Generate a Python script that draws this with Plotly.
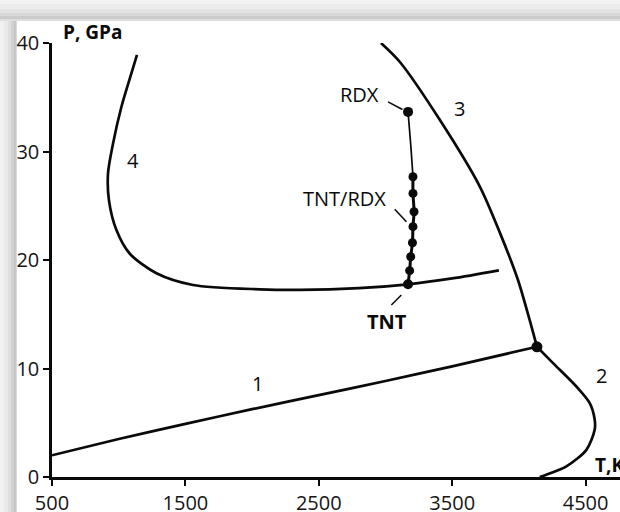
import plotly.graph_objects as go

# ---- data (T in K, P in GPa) ----
curve1_T = [500, 1000, 1500, 2000, 2500, 3000, 3500, 4135]
curve1_P = [2.0, 3.5, 4.9, 6.25, 7.55, 8.85, 10.2, 12.0]

curve2_T = [4135, 4256, 4431, 4531, 4568, 4568, 4506, 4356, 4206, 4156]
curve2_P = [12.0, 10.5, 8.34, 6.81, 5.3, 4.35, 2.5, 0.98, 0.21, 0.0]

curve3_T = [2966, 3108, 3408, 3708, 3858, 3993, 4081, 4135]
curve3_P = [40.0, 38.25, 32.9, 26.75, 22.5, 18.16, 14.45, 12.0]

curve4_T = [1137, 1095, 1020, 957, 920, 927, 983, 1082, 1283, 1557, 2057, 2357, 2800, 3169, 3500, 3850]
curve4_P = [38.9, 37.2, 34.1, 30.7, 28.0, 25.5, 22.76, 20.6, 18.78, 17.7, 17.3, 17.24, 17.4, 17.76, 18.3, 19.05]

rdx_T = [3169]
rdx_P = [33.65]
rdx_link_T = [3169, 3190, 3206]
rdx_link_P = [33.65, 30.5, 27.67]

mix_T = [3206, 3206, 3214, 3206, 3202, 3189, 3181]
mix_P = [27.67, 26.14, 24.45, 23.07, 21.59, 20.30, 19.02]

tnt_T = [3169]
tnt_P = [17.76]

triple_T = [4135]
triple_P = [12.0]

# leader lines (start, end)
lead_rdx_T = [3019, 3127]
lead_rdx_P = [34.57, 33.87]
lead_mix_T = [3069, 3157]
lead_mix_P = [24.67, 23.53]
lead_tnt_T = [3044, 3119]
lead_tnt_P = [15.86, 16.78]

x_ticks = [500, 1500, 2500, 3500, 4500]
y_ticks = [0, 10, 20, 30, 40]

FONT = "Open Sans"
BLACK = "#0a0a0a"

fig = go.Figure()

def line(T, P, w=2.7, shape="spline"):
    fig.add_trace(go.Scatter(x=T, y=P, mode="lines",
                             line=dict(color=BLACK, width=w, shape=shape, smoothing=0.8),
                             hoverinfo="skip", showlegend=False, cliponaxis=False))

line(curve1_T, curve1_P)
line(curve2_T, curve2_P)
line(curve3_T, curve3_P)
line(curve4_T, curve4_P)
line(rdx_link_T, rdx_link_P, w=1.7)
line(mix_T + tnt_T, mix_P + tnt_P, w=3)
line(lead_rdx_T, lead_rdx_P, w=1.5, shape="linear")
line(lead_mix_T, lead_mix_P, w=1.5, shape="linear")
line(lead_tnt_T, lead_tnt_P, w=1.5, shape="linear")

def dots(T, P, size):
    fig.add_trace(go.Scatter(x=T, y=P, mode="markers",
                             marker=dict(color=BLACK, size=size, line=dict(width=0)),
                             hoverinfo="skip", showlegend=False, cliponaxis=False))

dots(mix_T, mix_P, 9)
dots(rdx_T, rdx_P, 10)
dots(tnt_T, tnt_P, 10)
dots(triple_T, triple_P, 11)

# ---- layout geometry ----
W, H = 620, 512
ML, MR, MT, MB = 52, 0, 43, 35
PW, PH = W - ML - MR, H - MT - MB

def px_x(px):
    return (px - ML) / PW

def px_y(py):
    return (H - MB - py) / PH

shapes = []
top_band = [(0, 4, "#f3f3f3"), (4, 9, "#ececec"), (9, 13, "#e3e3e3"),
            (13, 16, "#d8d8d8"), (16, 19, "#cbcbcb"), (19, 21, "#dedede")]
for y0, y1, c in top_band:
    shapes.append(dict(type="rect", xref="paper", yref="paper",
                       x0=px_x(0), x1=px_x(W), y0=px_y(y1), y1=px_y(y0),
                       fillcolor=c, line=dict(width=0), layer="below"))
left_band = [(0, 4, "#f1f1f1"), (4, 8, "#e9e9e9"), (8, 11, "#dfdfdf"),
             (11, 14, "#d1d1d1"), (14, 16, "#c6c6c6"), (16, 17, "#dadada")]
for x0, x1, c in left_band:
    shapes.append(dict(type="rect", xref="paper", yref="paper",
                       x0=px_x(x0), x1=px_x(x1), y0=px_y(H), y1=px_y(top_band[-1][1]),
                       fillcolor=c, line=dict(width=0), layer="below"))

def ann(text, x, y, bold=False, size=20, xanchor="center", xref="x", yref="y"):
    return dict(text=("<b>%s</b>" % text) if bold else text, x=x, y=y, xref=xref, yref=yref,
                showarrow=False, xanchor=xanchor, yanchor="middle",
                font=dict(family=FONT, size=size, color=BLACK))

annotations = [
    ann("RDX", 2808, 35.3),
    ann("TNT/RDX", 2689, 25.7),
    ann("TNT", 3009, 14.3, bold=True),
    ann("1", 2043, 8.65),
    ann("2", 4618, 9.4),
    ann("3", 3556, 33.96),
    ann("4", 1107, 29.2),
    ann("P, GPa", px_x(61), px_y(32), bold=True, size=19, xanchor="left", xref="paper", yref="paper"),
    ann("T,K", px_x(593), px_y(465), bold=True, size=19, xanchor="left", xref="paper", yref="paper"),
]

axis_common = dict(showline=True, linecolor=BLACK, linewidth=2.5, ticks="outside",
                   ticklen=6, tickwidth=2, tickcolor=BLACK, showgrid=False, zeroline=False,
                   automargin=False,
                   tickfont=dict(family=FONT, size=20, color="#151515"), fixedrange=True)

fig.update_layout(
    width=W, height=H,
    margin=dict(l=ML, r=MR, t=MT, b=MB, pad=0, autoexpand=False),
    paper_bgcolor="white", plot_bgcolor="white",
    xaxis=dict(range=[500, 500 + PW / 0.1334], tickvals=x_ticks,
               ticktext=[str(v) for v in x_ticks], **axis_common),
    yaxis=dict(range=[0, 40], tickvals=y_ticks,
               ticktext=[str(v) for v in y_ticks], **axis_common),
    shapes=shapes,
    annotations=annotations,
    showlegend=False,
)

fig.write_html("out.html", config=dict(displayModeBar=False))
